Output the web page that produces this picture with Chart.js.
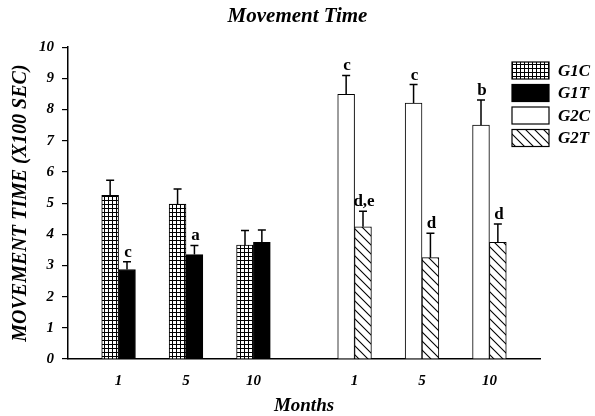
<!DOCTYPE html>
<html>
<head>
<meta charset="utf-8">
<script src="https://cdn.jsdelivr.net/npm/chart.js@4"></script>
<style>
  body { margin: 0; background: #fff; }
</style>
</head>
<body>
<canvas id="mt" width="595" height="416"></canvas>
<script>
// values (x100 sec)
const monthLabels = ['1', '5', '10'];
const g1cMean = [5.25, 4.97, 3.65];
const g1cErr  = [0.48, 0.48, 0.47];
const g1tMean = [2.87, 3.35, 3.74];
const g1tErr  = [0.25, 0.29, 0.40];
const g2cMean = [8.49, 8.21, 7.50];
const g2cErr  = [0.60, 0.59, 0.81];
const g2tMean = [4.24, 3.25, 3.74];
const g2tErr  = [0.50, 0.78, 0.59];
const g1cMarks = ['', '', ''];
const g1tMarks = ['c', 'a', ''];
const g2cMarks = ['c', 'c', 'b'];
const g2tMarks = ['d,e', 'd', 'd'];
const yTicks = [0, 1, 2, 3, 4, 5, 6, 7, 8, 9, 10];

// category slots: empty ones make the gaps between groups
const nSlots = 14;
const g1Slots = [1, 3, 5];
const g2Slots = [8, 10, 12];

const labels = new Array(nSlots).fill('');
g1Slots.forEach((s, i) => labels[s] = monthLabels[i]);
g2Slots.forEach((s, i) => labels[s] = monthLabels[i]);

function spread(slots, vals) {
    let out = new Array(nSlots).fill(null);
    slots.forEach((s, i) => out[s] = vals[i]);
    return out;
}

function checker() {
    let c = document.createElement('canvas');
    c.width = 4; c.height = 4;
    let x = c.getContext('2d');
    x.fillStyle = '#fff'; x.fillRect(0, 0, 4, 4);
    x.fillStyle = '#000';
    x.fillRect(0, 0, 4, 1);
    x.fillRect(0, 0, 1, 4);
    return x.createPattern(c, 'repeat');
}
function hatch() {
    let c = document.createElement('canvas');
    c.width = 9; c.height = 9;
    let x = c.getContext('2d');
    x.fillStyle = '#fff'; x.fillRect(0, 0, 9, 9);
    x.strokeStyle = '#000'; x.lineWidth = 1.1;
    x.beginPath();
    x.moveTo(-1, -1); x.lineTo(10, 10);
    x.moveTo(8, -1); x.lineTo(10, 1);
    x.moveTo(-1, 8); x.lineTo(1, 10);
    x.stroke();
    return x.createPattern(c, 'repeat');
}

const serif = 'Liberation Serif';
const bi = (size) => ({family: serif, size: size, style: 'italic', weight: 'bold', lineHeight: 1.2});

const datasets = [
    {label: 'G1C', data: spread(g1Slots, g1cMean), err: spread(g1Slots, g1cErr), marks: spread(g1Slots, g1cMarks), stack: 'c', backgroundColor: checker()},
    {label: 'G1T', data: spread(g1Slots, g1tMean), err: spread(g1Slots, g1tErr), marks: spread(g1Slots, g1tMarks), stack: 't', backgroundColor: '#000'},
    {label: 'G2C', data: spread(g2Slots, g2cMean), err: spread(g2Slots, g2cErr), marks: spread(g2Slots, g2cMarks), stack: 'c', backgroundColor: '#fff'},
    {label: 'G2T', data: spread(g2Slots, g2tMean), err: spread(g2Slots, g2tErr), marks: spread(g2Slots, g2tMarks), stack: 't', backgroundColor: hatch()}
];
datasets.forEach(d => {
    d.borderColor = '#000';
    d.borderWidth = 1;
    d.barPercentage = 1;
    d.categoryPercentage = 1;
});

// error bars + significance letters
const errorBars = {
    id: 'errorBars',
    afterDatasetsDraw(chart) {
        let ctx = chart.ctx;
        let y = chart.scales.y;
        ctx.save();
        ctx.strokeStyle = '#000';
        ctx.fillStyle = '#000';
        ctx.lineWidth = 1.5;
        ctx.font = 'bold 17px "' + serif + '"';
        ctx.textAlign = 'center';
        ctx.textBaseline = 'bottom';
        chart.data.datasets.forEach((ds, di) => {
            let meta = chart.getDatasetMeta(di);
            meta.data.forEach((bar, i) => {
                if (ds.data[i] == null) return;
                let top = y.getPixelForValue(ds.data[i] + ds.err[i]);
                ctx.beginPath();
                ctx.moveTo(bar.x, bar.y);
                ctx.lineTo(bar.x, top);
                ctx.moveTo(bar.x - 4, top);
                ctx.lineTo(bar.x + 4, top);
                ctx.stroke();
                if (ds.marks[i]) ctx.fillText(ds.marks[i], bar.x + 1, top - 1);
            });
        });
        ctx.restore();
    }
};

// legend boxes at the top right
const boxLegend = {
    id: 'boxLegend',
    afterDraw(chart) {
        let ctx = chart.ctx;
        let x0 = chart.chartArea.right - 28;
        ctx.save();
        ctx.font = 'italic bold 17px "' + serif + '"';
        ctx.textBaseline = 'middle';
        chart.data.datasets.forEach((ds, i) => {
            let y0 = 62 + i * 22.5;
            ctx.fillStyle = ds.backgroundColor;
            ctx.fillRect(x0, y0, 37, 17);
            ctx.strokeStyle = '#000';
            ctx.lineWidth = 1.2;
            ctx.strokeRect(x0, y0, 37, 17);
            ctx.fillStyle = '#000';
            ctx.fillText(ds.label, x0 + 46, y0 + 9.5);
        });
        ctx.restore();
    }
};

new Chart(document.getElementById('mt'), {
    type: 'bar',
    data: {labels: labels, datasets: datasets},
    plugins: [errorBars, boxLegend],
    options: {
        responsive: false,
        animation: false,
        layout: {padding: 0},
        plugins: {
            legend: {display: false},
            tooltip: {enabled: false},
            title: {
                display: true,
                text: 'Movement Time',
                color: '#000',
                font: bi(21),
                padding: {top: 4, bottom: 18}
            }
        },
        scales: {
            x: {
                stacked: true,
                grid: {display: false, drawTicks: false, tickLength: 0},
                border: {display: true, color: '#000', width: 1.5},
                ticks: {autoSkip: false, maxRotation: 0, color: '#000', font: bi(15), padding: 13},
                title: {display: true, text: 'Months', color: '#000', font: {family: serif, size: 19, style: 'italic', weight: 'bold', lineHeight: 1}, padding: 0},
                afterFit(s) { s.height = 57; }
            },
            y: {
                stacked: true,
                min: 0,
                max: 10,
                afterBuildTicks(s) { s.ticks = yTicks.map(v => ({value: v})); },
                grid: {display: true, drawOnChartArea: false, drawTicks: true, tickLength: 6, color: '#000', lineWidth: 1.2},
                border: {display: true, color: '#000', width: 1.5},
                ticks: {color: '#000', font: bi(15), padding: 8},
                title: {display: true, text: 'MOVEMENT TIME (X100 SEC)', color: '#000', font: bi(20), padding: {top: 9}},
                afterFit(s) { s.width = 68; }
            },
            r: {
                position: 'right',
                display: true,
                grid: {display: false},
                border: {display: false},
                ticks: {display: false},
                afterFit(s) { s.width = 55; }
            }
        }
    }
});
</script>
</body>
</html>
